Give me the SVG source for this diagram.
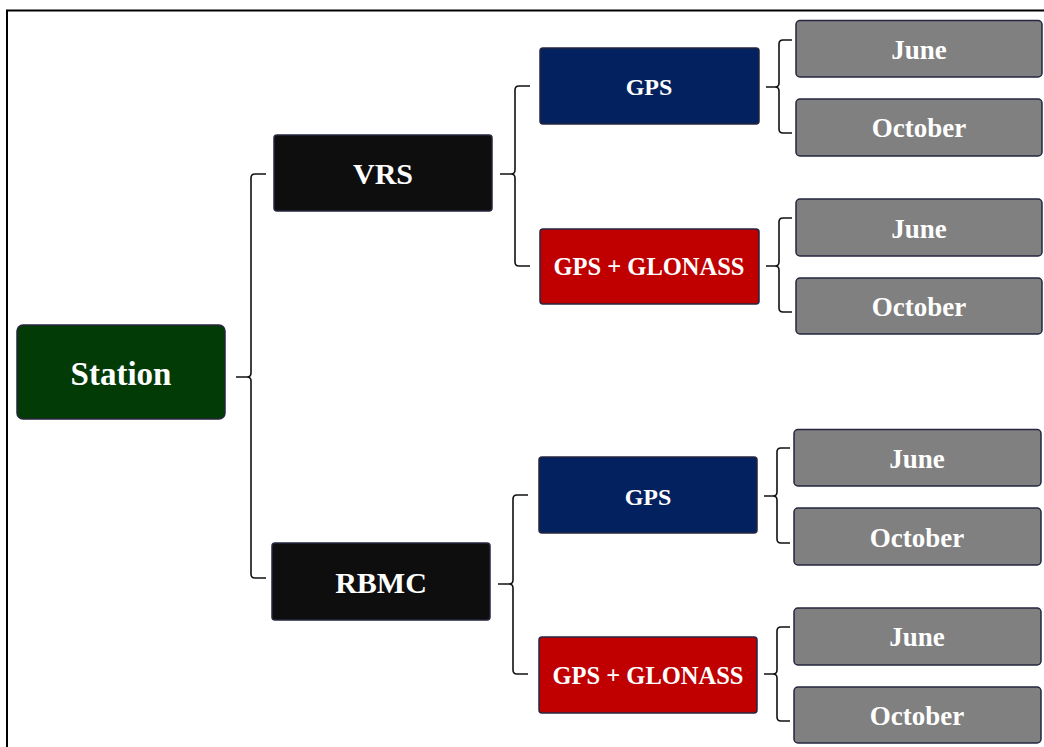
<svg xmlns="http://www.w3.org/2000/svg" width="1044" height="747" viewBox="0 0 1044 747">
<style>
.box{stroke:#26263f;stroke-width:1.5}
.st{fill:#033b06}
.bk{fill:#0e0e0e}
.gps{fill:#02215e}
.glo{fill:#c00000}
.mo{fill:#808080}
text{font-family:"Liberation Serif","Times New Roman",serif;font-weight:bold;fill:#ffffff;text-anchor:middle}
.br{fill:none;stroke:#111111;stroke-width:1.6}
</style>
<rect x="0" y="0" width="1044" height="747" fill="#ffffff"/>
<rect x="7" y="10.5" width="1100" height="800" fill="none" stroke="#000000" stroke-width="2"/>
<g id="connectors">
<path class="br" d="M266,174 H255 Q251,174 251,178 V373 Q251,377 247,377 H236 M247,377 Q251,377 251,381 V574 Q251,578 255,578 H266"/>
<path class="br" d="M530,86 H519 Q515,86 515,90 V170 Q515,174 511,174 H500 M511,174 Q515,174 515,178 V262 Q515,266 519,266 H530"/>
<path class="br" d="M528,495 H517 Q513,495 513,499 V580 Q513,584 509,584 H498 M509,584 Q513,584 513,588 V670 Q513,674 517,674 H528"/>
<path class="br" d="M792,40 H783 Q779,40 779,44 V83 Q779,87 775,87 H766 M775,87 Q779,87 779,91 V129 Q779,133 783,133 H792"/>
<path class="br" d="M792,218 H783 Q779,218 779,222 V262 Q779,266 775,266 H766 M775,266 Q779,266 779,270 V308 Q779,312 783,312 H792"/>
<path class="br" d="M790,448 H781 Q777,448 777,452 V492 Q777,496 773,496 H764 M773,496 Q777,496 777,500 V539 Q777,543 781,543 H790"/>
<path class="br" d="M790,627 H781 Q777,627 777,631 V670 Q777,674 773,674 H764 M773,674 Q777,674 777,678 V717 Q777,721 781,721 H790"/>
</g>
<g id="station">
<rect class="box st" x="17" y="325" width="208" height="94" rx="6"/>
<text x="121" y="385" font-size="33">Station</text>
</g>
<g id="vrs">
<rect class="box bk" x="274" y="135" width="218" height="76" rx="3"/>
<text x="383" y="184" font-size="30">VRS</text>
</g>
<g id="rbmc">
<rect class="box bk" x="272" y="543" width="218" height="77" rx="3"/>
<text x="381" y="593" font-size="30">RBMC</text>
</g>
<g id="vrs-gps">
<rect class="box gps" x="540" y="48" width="219" height="76" rx="3"/>
<text x="649" y="95" font-size="24">GPS</text>
</g>
<g id="vrs-glo">
<rect class="box glo" x="540" y="229" width="219" height="75" rx="3"/>
<text x="649" y="275" font-size="24.5">GPS + GLONASS</text>
</g>
<g id="rbmc-gps">
<rect class="box gps" x="539" y="457" width="218" height="76" rx="3"/>
<text x="648" y="505" font-size="24">GPS</text>
</g>
<g id="rbmc-glo">
<rect class="box glo" x="539" y="637" width="218" height="76" rx="3"/>
<text x="648" y="684" font-size="24.5">GPS + GLONASS</text>
</g>
<g id="vrs-gps-june">
<rect class="box mo" x="796" y="20.5" width="246" height="56.5" rx="4"/>
<text x="919" y="59" font-size="27">June</text>
</g>
<g id="vrs-gps-october">
<rect class="box mo" x="796" y="99" width="246" height="57" rx="4"/>
<text x="919" y="137" font-size="27">October</text>
</g>
<g id="vrs-glo-june">
<rect class="box mo" x="796" y="199" width="246" height="57" rx="4"/>
<text x="919" y="238" font-size="27">June</text>
</g>
<g id="vrs-glo-october">
<rect class="box mo" x="796" y="278" width="246" height="56" rx="4"/>
<text x="919" y="316" font-size="27">October</text>
</g>
<g id="rbmc-gps-june">
<rect class="box mo" x="794" y="429.5" width="247" height="56.5" rx="4"/>
<text x="917" y="468" font-size="27">June</text>
</g>
<g id="rbmc-gps-october">
<rect class="box mo" x="794" y="508" width="247" height="57" rx="4"/>
<text x="917" y="547" font-size="27">October</text>
</g>
<g id="rbmc-glo-june">
<rect class="box mo" x="794" y="608" width="247" height="57" rx="4"/>
<text x="917" y="646" font-size="27">June</text>
</g>
<g id="rbmc-glo-october">
<rect class="box mo" x="794" y="687" width="247" height="56" rx="4"/>
<text x="917" y="725" font-size="27">October</text>
</g>
</svg>
